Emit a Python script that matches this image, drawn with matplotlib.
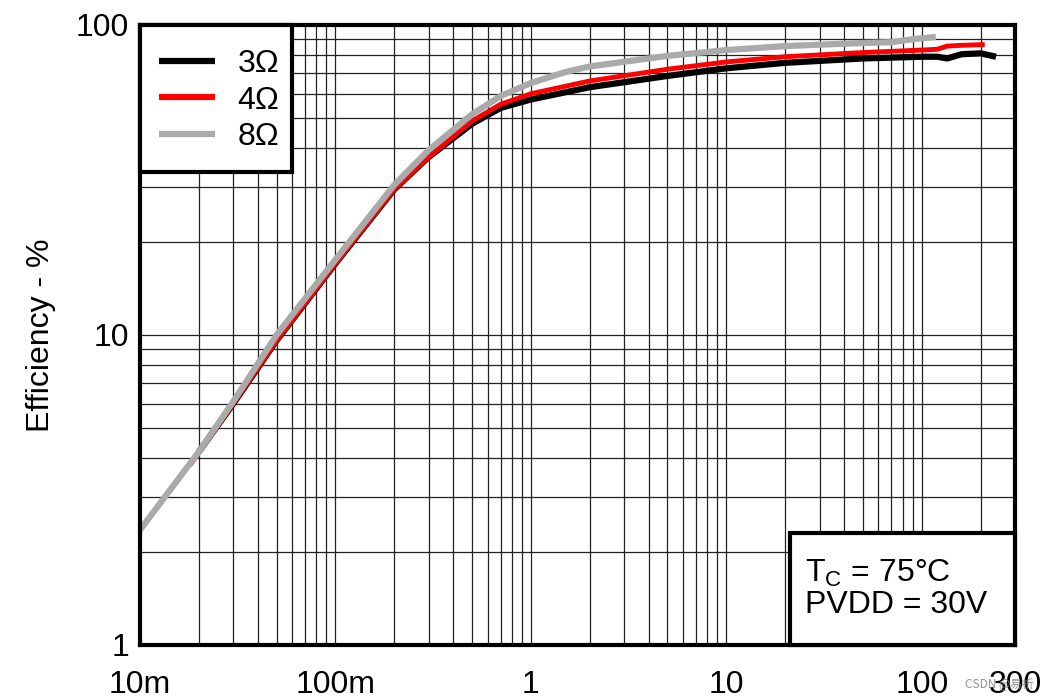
import matplotlib
matplotlib.use("Agg")
import matplotlib.pyplot as plt
from matplotlib.patches import Rectangle
from matplotlib.ticker import FixedLocator, LogLocator, NullFormatter

plt.rcParams['font.family'] = ['Liberation Sans', 'DejaVu Sans']

# Output power (W) vs efficiency (%)
x_3ohm = [0.02, 0.03, 0.05, 0.1, 0.2, 0.3, 0.5, 0.7, 1.0, 2.0, 5.0, 10, 20, 50, 100, 120, 135, 160, 200, 240]
y_3ohm = [4.2, 6.0, 9.6, 17.0, 29.5, 37.5, 48.0, 54.0, 57.5, 63.0, 68.5, 72.5, 75.5, 78.0, 79.0, 79.0, 78.0, 80.5, 81.0, 79.0]

x_4ohm = [0.018, 0.03, 0.05, 0.1, 0.2, 0.3, 0.5, 0.7, 1.0, 2.0, 5.0, 10, 20, 50, 100, 120, 135, 160, 210]
y_4ohm = [3.8, 6.0, 9.6, 17.0, 29.5, 37.5, 49.0, 55.5, 60.0, 66.0, 72.0, 76.0, 79.0, 81.5, 83.0, 83.5, 85.5, 86.0, 86.5]

x_8ohm = [0.01, 0.02, 0.03, 0.05, 0.1, 0.2, 0.3, 0.5, 0.7, 1.0, 1.5, 2.0, 5.0, 10, 20, 50, 70, 90, 118]
y_8ohm = [2.35, 4.2, 6.1, 10.0, 17.5, 30.5, 39.5, 51.5, 59.0, 65.0, 70.5, 73.5, 79.5, 83.0, 85.5, 87.5, 88.0, 90.0, 91.5]

x_ticks = [0.01, 0.1, 1, 10, 100, 300]
x_tick_labels = ["10m", "100m", "1", "10", "100", "300"]
y_ticks = [1, 10, 100]
y_tick_labels = ["1", "10", "100"]

FS = 23
SPINE = 3.0

fig = plt.figure(figsize=(10.53, 6.99), dpi=100)
ax = fig.add_axes([140/1053, 1-645/699, (1015-140)/1053, (645-25)/699])

lw = 4.5
ax.plot(x_3ohm, y_3ohm, color='black', lw=lw, solid_capstyle='butt', label='3Ω', zorder=3)
ax.plot(x_4ohm, y_4ohm, color='#ff0000', lw=lw - 1, solid_capstyle='butt', label='4Ω', zorder=4)
ax.plot(x_8ohm, y_8ohm, color='#aaaaaa', lw=lw, solid_capstyle='butt', label='8Ω', zorder=5)

ax.set_xscale('log')
ax.set_yscale('log')
ax.set_xlim(0.01, 300)
ax.set_ylim(1, 100)

ax.xaxis.set_major_locator(FixedLocator(x_ticks))
ax.set_xticklabels(x_tick_labels)
ax.xaxis.set_minor_locator(LogLocator(base=10, subs=range(2, 10), numticks=20))
ax.xaxis.set_minor_formatter(NullFormatter())
ax.yaxis.set_major_locator(FixedLocator(y_ticks))
ax.set_yticklabels(y_tick_labels)
ax.yaxis.set_minor_locator(LogLocator(base=10, subs=range(2, 10), numticks=20))
ax.yaxis.set_minor_formatter(NullFormatter())

ax.grid(True, which='both', color='#222222', lw=0.9)
ax.tick_params(which='both', length=0, labelsize=FS)
ax.tick_params(axis='x', pad=18)
ax.tick_params(axis='y', pad=8)
for s in ax.spines.values():
    s.set_linewidth(SPINE)
    s.set_zorder(6)

ax.set_ylabel('Efficiency - %', fontsize=FS, labelpad=14)

# legend box, flush with the top-left corner
ax.add_patch(Rectangle((0, 1 - 147/620), 152/875, 147/620, transform=ax.transAxes,
                       facecolor='white', edgecolor='black', lw=SPINE, zorder=7, clip_on=False))
leg = ax.legend(loc='upper left', bbox_to_anchor=(0.0, 0.992), fontsize=FS, frameon=False,
                borderaxespad=0, handlelength=1.75, handletextpad=0.7,
                borderpad=0.6, labelspacing=0.2)
leg.set_zorder(8)
for h in leg.legend_handles:
    h.set_linewidth(4.5)

# condition box, flush with the bottom-right corner
ax.add_patch(Rectangle((1 - 225/875, 0), 225/875, 112/620, transform=ax.transAxes,
                       facecolor='white', edgecolor='black', lw=SPINE, zorder=7, clip_on=False))
ax.text((805 - 140)/875, (645 - 573)/620, 'T$_\\mathregular{C}$ = 75°C', transform=ax.transAxes,
        ha='left', va='center', fontsize=FS, zorder=8)
ax.text((805 - 140)/875, (645 - 590)/620, 'PVDD = 30V', transform=ax.transAxes,
        ha='left', va='top', fontsize=FS, zorder=8)

fig.text(0.982, 0.022, 'CSDN @易析', fontsize=8.5, color='#888888', ha='right', va='center',
         family=['Noto Sans CJK SC', 'DejaVu Sans'], alpha=0.9)

fig.savefig('out.png', dpi=100)
